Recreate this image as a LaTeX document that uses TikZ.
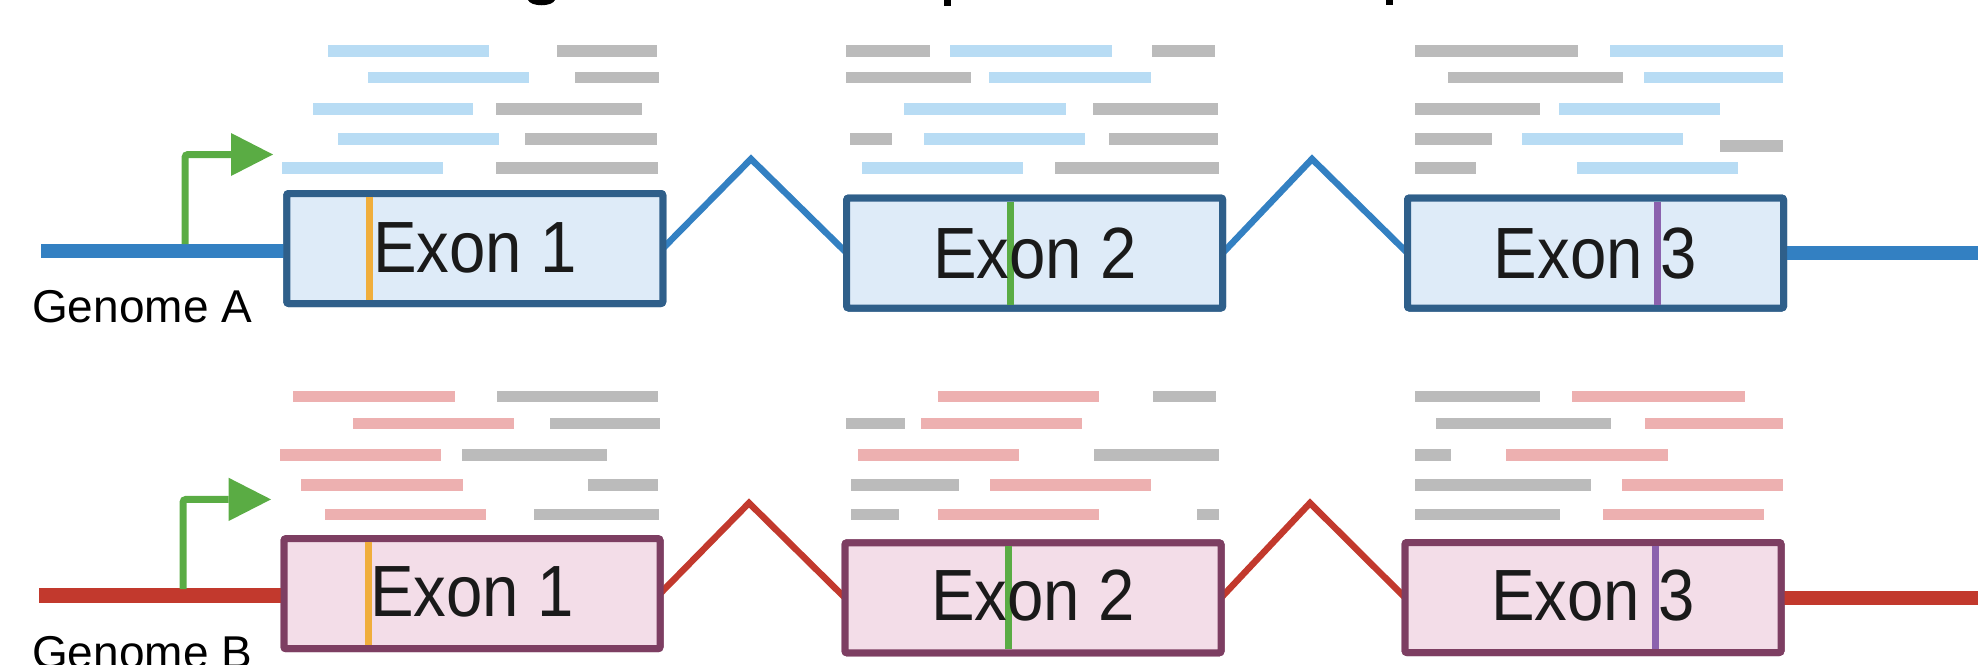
\documentclass[tikz,border=0pt]{standalone}
\usepackage{fontspec}
\setmainfont{Liberation Sans}
\definecolor{lineA}{HTML}{3380C2}
\definecolor{exAbd}{HTML}{2F5F8A}
\definecolor{exAfill}{HTML}{DEEBF8}
\definecolor{readBlue}{HTML}{B8DCF4}
\definecolor{readGray}{HTML}{BBBBBB}
\definecolor{prom}{HTML}{5AAC44}
\definecolor{stripeO}{HTML}{F0AE3C}
\definecolor{stripeG}{HTML}{5AAC44}
\definecolor{stripeP}{HTML}{8B62AE}
\definecolor{lineB}{HTML}{C2392D}
\definecolor{exBbd}{HTML}{7D3E62}
\definecolor{exBfill}{HTML}{F3DDE8}
\definecolor{readPink}{HTML}{EDB0B0}
\definecolor{txt}{HTML}{1A1A1A}
\newcommand{\rd}[4]{\fill[#1] (#2,{#4-5.8}) rectangle (#3,{#4+5.8});}
\begin{document}
\begin{tikzpicture}[x=1pt,y=-1pt,
  exonA/.style={draw=exAbd, fill=exAfill, line width=7pt, minimum width=376pt,
    minimum height=110pt, inner sep=0pt, outer sep=0pt, rounded corners=2pt},
  exonB/.style={exonA, draw=exBbd, fill=exBfill},
  exontext/.style={font=\fontsize{72.6}{80}\selectfont, text=txt, anchor=base, inner sep=0pt},
  genlabel/.style={font=\fontsize{46}{52}\selectfont, text=black, anchor=base west, inner sep=0pt},
  genomeA/.style={draw=lineA, line width=14.5pt},
  genomeB/.style={draw=lineB, line width=14.5pt},
  intronA/.style={draw=lineA, line width=6.5pt},
  intronB/.style={draw=lineB, line width=6.5pt},
  promline/.style={draw=prom, line width=7pt, rounded corners=3pt},
  promhead/.style={fill=prom},
  stripe/.style={line width=7pt, shorten <=3.5pt, shorten >=3.5pt}
]
\useasboundingbox (0,0) rectangle (1978,664);
\clip (0,0) rectangle (1978,664);

% fragments of the cut-off title
\fill[black] (528,0) -- (555,0) .. controls (552,7) and (531,7) .. cycle;
\fill[black] (944,0) rectangle (951,5.7);
\fill[black] (1386,0) rectangle (1393,5);

% ---------- Genome A ----------
\node[exonA] (a1) at (474.75,248.5) {};
\node[exonA] (a2) at (1034.7,253) {};
\node[exonA] (a3) at (1595.5,253) {};
\coordinate (gAL) at (41,251);
\coordinate (gAR) at (1978,253);
\coordinate (pA1) at (751,159);
\coordinate (pA2) at (1312,159);
\begin{scope}[on background layer/.try]
\end{scope}
\draw[genomeA] (gAL) -- (gAL -| a1.west);
\draw[genomeA] (a3.east |- gAR) -- (gAR);
\draw[intronA] (a1.east) -- (pA1) -- (a2.west);
\draw[intronA] (a2.east) -- (pA2) -- (a3.west);
% redraw boxes over line ends
\node[exonA] at (a1) {};
\node[exonA] at (a2) {};
\node[exonA] at (a3) {};
\draw[stripe, stripeO] (369.6,0 |- a1.north) -- (369.6,0 |- a1.south);
\draw[stripe, stripeG] (1010.7,0 |- a2.north) -- (1010.7,0 |- a2.south);
\draw[stripe, stripeP] (1657,0 |- a3.north) -- (1657,0 |- a3.south);
\node[exontext] (ta1) at ([yshift=-24pt]a1.center) {\scalebox{0.9}[1]{Exon 1}};
\node[exontext] (ta2) at ([yshift=-25pt]a2.center) {\scalebox{0.9}[1]{Exon 2}};
\node[exontext] (ta3) at ([yshift=-25pt]a3.center) {\scalebox{0.9}[1]{Exon 3}};
\node[genlabel] (la) at (32,322) {Genome A};
% promoter A
\coordinate (prA0) at (185,244);
\coordinate (prA1) at (185,154.5);
\coordinate (prA2) at (231,154.5);
\coordinate (prAt) at (273,154.5);
\draw[promline] (prA0) -- (prA1) -- (prA2);
\fill[promhead] ([yshift=21.5pt]prA2) -- (prAt) -- ([yshift=-21.5pt]prA2) -- cycle;
% reads A, exon 1
\rd{readBlue}{328}{489}{50.7}   \rd{readGray}{557}{657}{50.7}
\rd{readBlue}{368}{529}{77.5}   \rd{readGray}{575}{659}{77.5}
\rd{readBlue}{312.5}{473}{109.2}\rd{readGray}{496}{642}{109.2}
\rd{readBlue}{338}{499}{139.2}  \rd{readGray}{525}{657}{139.2}
\rd{readBlue}{282}{443}{168.2}  \rd{readGray}{496}{658}{168.2}
% reads A, exon 2
\rd{readGray}{845.5}{930}{50.7} \rd{readBlue}{950.4}{1111.6}{50.7} \rd{readGray}{1152}{1215}{50.7}
\rd{readGray}{845.5}{970.5}{77.5} \rd{readBlue}{989}{1151}{77.5}
\rd{readBlue}{904}{1065.6}{109.2} \rd{readGray}{1093}{1218}{109.2}
\rd{readGray}{849.6}{892}{139.2} \rd{readBlue}{924}{1085}{139.2} \rd{readGray}{1109}{1218}{139.2}
\rd{readBlue}{862}{1023}{168.2} \rd{readGray}{1055}{1219}{168.2}
% reads A, exon 3
\rd{readGray}{1414.6}{1577.6}{50.7} \rd{readBlue}{1610}{1782.5}{50.7}
\rd{readGray}{1447.9}{1622.5}{77.5} \rd{readBlue}{1643.7}{1782.5}{77.5}
\rd{readGray}{1414.6}{1539.5}{109.2} \rd{readBlue}{1559}{1719.8}{109.2}
\rd{readGray}{1415}{1492.4}{139.2} \rd{readBlue}{1521.8}{1683}{139.2} \rd{readGray}{1720}{1782.5}{145.8}
\rd{readGray}{1414.6}{1476.4}{168.2} \rd{readBlue}{1576.7}{1737.5}{168.2}

% ---------- Genome B ----------
\node[exonB] (b1) at (472,593.7) {};
\node[exonB] (b2) at (1033,597.8) {};
\node[exonB] (b3) at (1593,597.5) {};
\coordinate (gBL) at (39,595.5);
\coordinate (gBR) at (1978,598);
\coordinate (pB1) at (749,503);
\coordinate (pB2) at (1310,503);
\draw[genomeB] (gBL) -- (gBL -| b1.west);
\draw[genomeB] (b3.east |- gBR) -- (gBR);
\draw[intronB] (b1.east) -- (pB1) -- (b2.west);
\draw[intronB] (b2.east) -- (pB2) -- (b3.west);
\node[exonB] at (b1) {};
\node[exonB] at (b2) {};
\node[exonB] at (b3) {};
\draw[stripe, stripeO] (368,0 |- b1.north) -- (368,0 |- b1.south);
\draw[stripe, stripeG] (1008.5,0 |- b2.north) -- (1008.5,0 |- b2.south);
\draw[stripe, stripeP] (1655.4,0 |- b3.north) -- (1655.4,0 |- b3.south);
\node[exontext] (tb1) at ([yshift=-23pt]b1.center) {\scalebox{0.9}[1]{Exon 1}};
\node[exontext] (tb2) at ([yshift=-23pt]b2.center) {\scalebox{0.9}[1]{Exon 2}};
\node[exontext] (tb3) at ([yshift=-23pt]b3.center) {\scalebox{0.9}[1]{Exon 3}};
\node[genlabel] (lb) at (32,668) {Genome B};
% promoter B
\coordinate (prB0) at (183,589);
\coordinate (prB1) at (183,499.4);
\coordinate (prB2) at (228.5,499.4);
\coordinate (prBt) at (271,499.4);
\draw[promline] (prB0) -- (prB1) -- (prB2);
\fill[promhead] ([yshift=21.7pt]prB2) -- (prBt) -- ([yshift=-21.7pt]prB2) -- cycle;
% reads B, exon 1
\rd{readPink}{293}{454.5}{396.5}   \rd{readGray}{497}{658}{396.5}
\rd{readPink}{352.7}{513.8}{423.5} \rd{readGray}{550}{660}{423.5}
\rd{readPink}{280}{441}{455.2}     \rd{readGray}{461.6}{606.7}{455.2}
\rd{readPink}{301}{462.5}{484.8}   \rd{readGray}{587.5}{658}{484.8}
\rd{readPink}{324.6}{485.7}{514.5} \rd{readGray}{534}{659}{514.5}
% reads B, exon 2
\rd{readPink}{937.5}{1098.7}{396.5} \rd{readGray}{1153}{1215.6}{396.5}
\rd{readGray}{846}{905}{423.5} \rd{readPink}{921}{1082}{423.5}
\rd{readPink}{857.6}{1018.75}{455.2} \rd{readGray}{1094}{1219}{455.2}
\rd{readGray}{851}{959.4}{484.8} \rd{readPink}{989.7}{1151}{484.8}
\rd{readGray}{851}{899}{514.5} \rd{readPink}{937.5}{1098.7}{514.5} \rd{readGray}{1197}{1219}{514.5}
% reads B, exon 3
\rd{readGray}{1415}{1539.5}{396.5} \rd{readPink}{1572}{1744.5}{396.5}
\rd{readGray}{1436}{1611}{423.5} \rd{readPink}{1645}{1783.4}{423.5}
\rd{readGray}{1415}{1451}{455.2} \rd{readPink}{1506}{1667.5}{455.2}
\rd{readGray}{1415.4}{1591}{484.8} \rd{readPink}{1622}{1783}{484.8}
\rd{readGray}{1415}{1560}{514.5} \rd{readPink}{1603}{1764}{514.5}
\end{tikzpicture}
\end{document}
